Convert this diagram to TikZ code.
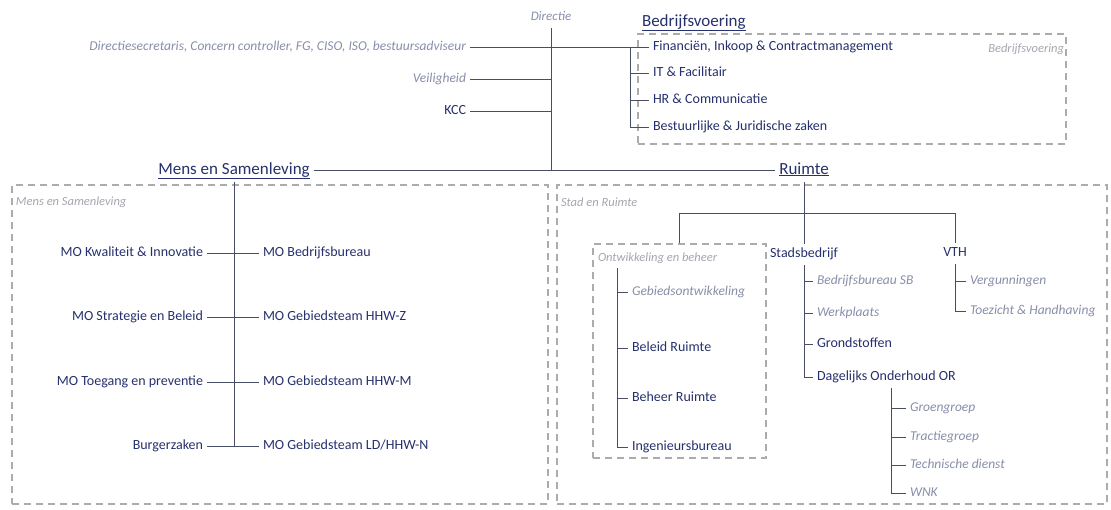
\documentclass[tikz,border=0pt]{standalone}
\usepackage{fontspec}
\setmainfont{Carlito}
\usepackage{xcolor}
\usepackage{tikz}
\usetikzlibrary{positioning}
\definecolor{orgnavy}{RGB}{38,48,108}
\definecolor{orggray}{RGB}{135,142,168}
\definecolor{orglabel}{RGB}{165,165,175}
\definecolor{orgline}{RGB}{72,78,100}
\definecolor{orgdash}{RGB}{172,172,172}

\begin{document}
\begin{tikzpicture}[x=1pt,y=-1pt,
  unit/.style={inner sep=2pt, outer sep=2pt, text=orgnavy, text height=10pt, text depth=3pt, font=\fontsize{14}{16}\selectfont},
  staff/.style={unit, text=orggray, font=\fontsize{13.5}{15}\selectfont\itshape},
  head/.style={unit, text height=12pt, text depth=4pt, font=\fontsize{17}{20}\selectfont},
  arealabel/.style={unit, text=orglabel, font=\fontsize{12.5}{15}\selectfont\itshape},
  link/.style={draw=orgline, line width=0.9pt},
  area/.style={draw=orgdash, line width=1.1pt, dash pattern=on 7pt off 5pt, inner sep=0pt}]
  \useasboundingbox (0,0) rectangle (1111,509);

  % dashed areas
  \node[area, minimum width=428pt, minimum height=110pt] (bvbox) at (852,89) {};
  \node[area, minimum width=536pt, minimum height=319pt] (msbox) at (280,344.5) {};
  \node[area, minimum width=550pt, minimum height=319pt] (srbox) at (832,344.5) {};
  \node[area, minimum width=173pt, minimum height=214pt] (ontw) at (679.5,351) {};
  \node[arealabel, anchor=east] (bvlabel) at (1068,49) {Bedrijfsvoering};
  \node[arealabel, anchor=west] (mslabel) at (12,202) {Mens en Samenleving};
  \node[arealabel, anchor=west] (srlabel) at (557,203) {Stad en Ruimte};
  \node[arealabel, anchor=west] (ontwlabel) at (594,258) {Ontwikkeling en beheer};

  % directie and staff
  \node[staff, font=\fontsize{13}{15}\selectfont\itshape] (directie) at (551,17) {Directie};
  \node[staff, anchor=east] (dsec) at (470,47) {Directiesecretaris, Concern controller, FG, CISO, ISO, bestuursadviseur};
  \node[staff, anchor=east] (veil) at (470,79) {Veiligheid};
  \node[unit, anchor=east] (kcc) at (470,111) {KCC};
  \node[head] (mens) at (234,170) {\underline{Mens en Samenleving}};
  \node[head] (ruimte) at (804,170) {\underline{Ruimte}};
  \node[head, anchor=west] (bv) at (638,22) {\underline{Bedrijfsvoering}};
  \coordinate (bvbar) at (630,47);
  \foreach \name/\ypos/\txt in {fin/47/{Financiën, Inkoop \& Contractmanagement}, it/73/{IT \& Facilitair}, hr/100/{HR \& Communicatie}, bestuur/127/{Bestuurlijke \& Juridische zaken}}
    \node[unit, anchor=west] (\name) at (649,\ypos) {\txt};

  \draw[link] (directie.south) -- (directie.south |- mens.east);
  \draw[link] (mens.east) -- (ruimte.west);
  \draw[link] (dsec.east) -- (bvbar);
  \draw[link] (veil.east) -- (veil.east -| directie.south);
  \draw[link] (kcc.east) -- (kcc.east -| directie.south);
  \draw[link] (bvbar) |- (bestuur.west);
  \foreach \name in {fin,it,hr}
    \draw[link] (bvbar |- \name.west) -- (\name.west);

  % mens en samenleving
  \foreach \lname/\ltxt/\rname/\rtxt/\ypos in {kwal/{MO Kwaliteit \& Innovatie}/mobb/{MO Bedrijfsbureau}/253,
      strat/{MO Strategie en Beleid}/hhwz/{MO Gebiedsteam HHW-Z}/317,
      toeg/{MO Toegang en preventie}/hhwm/{MO Gebiedsteam HHW-M}/382,
      burg/{Burgerzaken}/ldhhw/{MO Gebiedsteam LD/HHW-N}/446} {
    \node[unit, anchor=east] (\lname) at (207,\ypos) {\ltxt};
    \node[unit, anchor=west] (\rname) at (259,\ypos) {\rtxt};
    \draw[link] (\lname.east) -- (\rname.west);
  }
  \draw[link] (mens.south) -- (mens.south |- burg.east);

  % stad en ruimte
  \coordinate (rjunc) at (804,213);
  \node[unit] (stads) at (804,254) {Stadsbedrijf};
  \node[unit] (vth) at (955,253) {VTH};
  \draw[link] (ruimte.south) -- (ruimte.south |- stads.north);
  \draw[link] (ontw.north) -- (ontw.north |- rjunc) -- (vth.north |- rjunc) -- (vth.north);

  \coordinate (ontwbar) at (617,268);
  \node[staff, anchor=west] (gebied) at (628,292) {Gebiedsontwikkeling};
  \node[unit, anchor=west] (beleid) at (628,348) {Beleid Ruimte};
  \node[unit, anchor=west] (beheer) at (628,398) {Beheer Ruimte};
  \node[unit, anchor=west] (ingb) at (628,447) {Ingenieursbureau};
  \draw[link] (ontwbar) |- (ingb.west);
  \foreach \name in {gebied,beleid,beheer}
    \draw[link] (ontwbar |- \name.west) -- (\name.west);

  \node[staff, anchor=west] (bbsb) at (813,281) {Bedrijfsbureau SB};
  \node[staff, anchor=west] (werk) at (813,313) {Werkplaats};
  \node[unit, anchor=west] (grond) at (813,344) {Grondstoffen};
  \node[unit, anchor=west] (dag) at (813,377) {Dagelijks Onderhoud OR};
  \draw[link] (stads.south) |- (dag.west);
  \foreach \name in {bbsb,werk,grond}
    \draw[link] (stads.south |- \name.west) -- (\name.west);

  \foreach \name/\ypos/\txt in {groen/408/Groengroep, tractie/437/Tractiegroep, techn/465/{Technische dienst}, wnk/493/WNK}
    \node[staff, anchor=west] (\name) at (906,\ypos) {\txt};
  \draw[link] ([xshift=5pt]dag.south) |- (wnk.west);
  \foreach \name in {groen,tractie,techn}
    \draw[link] ([xshift=5pt]dag.south |- \name.west) -- (\name.west);

  \node[staff, anchor=west] (verg) at (966,281) {Vergunningen};
  \node[staff, anchor=west] (toez) at (966,311) {Toezicht \& Handhaving};
  \draw[link] (vth.south) |- (toez.west);
  \draw[link] (vth.south |- verg.west) -- (verg.west);
\end{tikzpicture}
\end{document}
